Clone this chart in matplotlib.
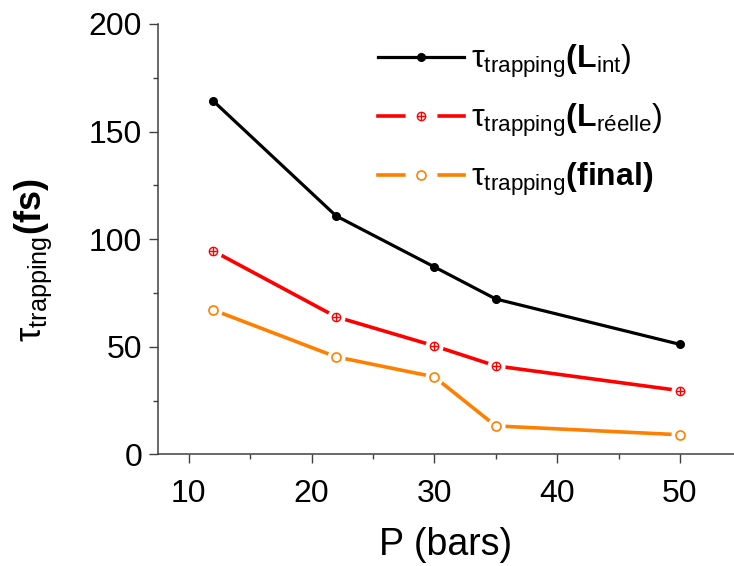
import matplotlib
matplotlib.use('Agg')
import matplotlib.pyplot as plt
from matplotlib.lines import Line2D
from matplotlib.legend_handler import HandlerTuple
from matplotlib.ticker import MultipleLocator

plt.rcParams['font.family'] = ['Liberation Sans', 'DejaVu Sans']
plt.rcParams['mathtext.fontset'] = 'custom'
plt.rcParams['mathtext.rm'] = 'Liberation Sans'
plt.rcParams['mathtext.bf'] = 'Liberation Sans:bold'
plt.rcParams['mathtext.it'] = 'Liberation Sans:italic'

# data
pressure = [12, 22, 30, 35, 50]
tau_lint = [164.2, 110.8, 87.1, 72.2, 51.1]
tau_reelle = [94.5, 63.9, 50.4, 41.1, 29.6]
tau_final = [67.1, 45.3, 36.0, 13.2, 9.1]

labels = [
    r'$\mathrm{\tau}_{\mathrm{trapping}}\mathbf{(L}_{\mathrm{int}}\mathrm{)}$',
    r'$\mathrm{\tau}_{\mathrm{trapping}}\mathbf{(L}_{\mathrm{réelle}}\mathrm{)}$',
    r'$\mathrm{\tau}_{\mathrm{trapping}}\mathbf{(final)}$',
]

red = '#ff0000'
orange = '#ff8000'

fig = plt.figure(figsize=(7.34, 5.66), dpi=100)
ax = fig.add_axes([0.2153, 0.1973, 0.7847, 0.7603])

# black series: plain line, small filled dots
l1, = ax.plot(pressure, tau_lint, color='black', lw=2.3, marker='o', ms=5.5,
              zorder=3)

# red and orange: Origin style, line broken around the symbol
ax.plot(pressure, tau_reelle, color=red, lw=2.6, zorder=2)
ax.plot(pressure, tau_reelle, ls='none', marker='o', ms=12,
        mfc='white', mec='white', zorder=4)
ax.plot(pressure, tau_reelle, ls='none', marker='o', ms=6,
        mfc='white', mec=red, mew=1.0, zorder=5)
ax.plot(pressure, tau_reelle, ls='none', marker='+', ms=6,
        mec=red, mew=1.0, zorder=6)

ax.plot(pressure, tau_final, color=orange, lw=2.6, zorder=2)
ax.plot(pressure, tau_final, ls='none', marker='o', ms=12,
        mfc='white', mec='white', zorder=4)
ax.plot(pressure, tau_final, ls='none', marker='o', ms=6.5,
        mfc='white', mec=orange, mew=1.2, zorder=5)

ax.set_xlim(7.5, 54.4)
ax.set_ylim(0, 200)
ax.xaxis.set_major_locator(MultipleLocator(10))
ax.xaxis.set_minor_locator(MultipleLocator(5))
ax.yaxis.set_major_locator(MultipleLocator(50))
ax.yaxis.set_minor_locator(MultipleLocator(25))

for side in ['top', 'right']:
    ax.spines[side].set_visible(False)
for side in ['left', 'bottom']:
    ax.spines[side].set_color('#404040')
    ax.spines[side].set_linewidth(1.1)

ax.tick_params(which='major', direction='out', length=6.5, width=1.0,
               color='#404040', labelsize=23)
ax.tick_params(which='minor', direction='out', length=3.5, width=1.0,
               color='#404040')
ax.tick_params(axis='x', which='major', pad=11)
ax.tick_params(axis='y', which='major', pad=5)

ax.set_xlabel('P (bars)', fontsize=27)
ax.xaxis.set_label_coords(0.5, -0.17)
ax.set_ylabel(r'$\mathrm{\tau}_{\mathrm{trapping}}\mathbf{(fs)}$', fontsize=26)
ax.yaxis.set_label_coords(-0.18, 0.45)

# legend proxies, the gap round the symbol is wider in the legend
def gapped(color, marker_keys):
    line = Line2D([], [], color=color, lw=2.6)
    gap = Line2D([], [], ls='none', marker='o', ms=22, mfc='white', mec='white')
    marks = [Line2D([], [], ls='none', color=color, **kw) for kw in marker_keys]
    return tuple([line, gap] + marks)

h2 = gapped(red, [dict(marker='o', ms=6, mfc='white', mec=red, mew=1.0),
                  dict(marker='+', ms=6, mec=red, mew=1.0)])
h3 = gapped(orange, [dict(marker='o', ms=6.5, mfc='white', mec=orange, mew=1.2)])

leg = ax.legend([l1, h2, h3], labels,
                handler_map={tuple: HandlerTuple(ndivide=1, pad=0)},
                loc='upper left', bbox_to_anchor=(378 / 734, 1 - 43 / 566),
                bbox_transform=fig.transFigure, frameon=False,
                fontsize=23, handlelength=2.7, handletextpad=0.2,
                labelspacing=0.68, borderpad=0, borderaxespad=0)

fig.savefig('out.png', dpi=100)
